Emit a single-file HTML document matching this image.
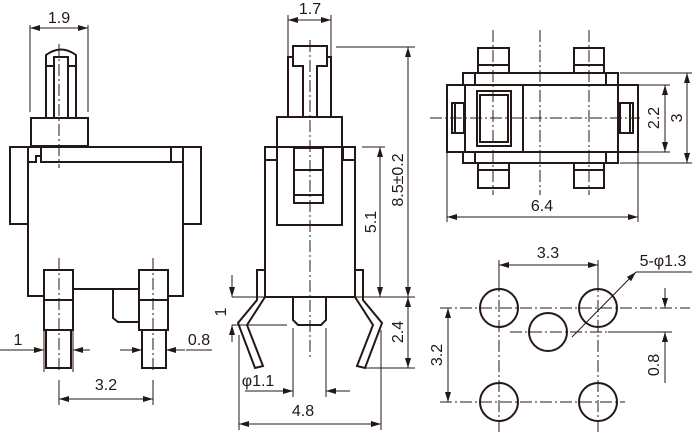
<!DOCTYPE html>
<html><head><meta charset="utf-8"><style>
html,body{margin:0;padding:0;background:#fff;}
svg{display:block;}
text{font-family:"Liberation Sans",sans-serif;font-size:16px;fill:#231815;}
.o{fill:none;stroke:#231815;stroke-width:2;}
.d{fill:none;stroke:#231815;stroke-width:1;}
.c{fill:none;stroke:#231815;stroke-width:1;stroke-dasharray:12 3 2 3;}
</style></head><body>
<svg width="694" height="433" viewBox="0 0 694 433" xmlns="http://www.w3.org/2000/svg">
<defs>
<marker id="a" viewBox="0 0 10 6" refX="10" refY="3" markerWidth="10" markerHeight="6" orient="auto-start-reverse" markerUnits="userSpaceOnUse"><path d="M0,0L10,3L0,6z" fill="#231815"/></marker>
</defs>
<!-- LEFT VIEW -->
<line class="d" x1="30" y1="25" x2="30" y2="112"/><line class="d" x1="88" y1="25" x2="88" y2="112"/>
<line class="d" x1="30" y1="28" x2="88" y2="28" marker-start="url(#a)" marker-end="url(#a)"/>
<text x="59" y="23" text-anchor="middle">1.9</text>
<path class="o" d="M46,118V55Q61,44 76,55V118"/>
<rect class="o" x="54" y="57" width="14" height="61"/>
<line class="o" x1="46" y1="66" x2="54" y2="66"/><line class="o" x1="68" y1="66" x2="76" y2="66"/>
<rect class="o" x="31" y="118" width="57" height="28"/>
<rect class="o" x="10" y="147" width="18" height="77"/>
<rect class="o" x="183" y="147" width="18" height="77"/>
<path class="o" d="M28,147H201M28,162V296H44M73,289H139M168,296H183V162H41V147M41,162V156H36V162H28M171,147V162"/>
<rect class="o" x="44" y="270" width="29" height="60"/><line class="o" x1="44" y1="300" x2="73" y2="300"/>
<rect class="o" x="46" y="330" width="25" height="38"/>
<rect class="o" x="139" y="270" width="29" height="60"/><line class="o" x1="139" y1="300" x2="168" y2="300"/>
<rect class="o" x="142" y="330" width="24" height="38"/>
<path class="o" d="M139,289H113V318L118,322H139"/>
<line class="c" x1="59" y1="44" x2="59" y2="168"/>
<line class="c" x1="59" y1="258" x2="59" y2="372"/><line class="c" x1="153" y1="258" x2="153" y2="372"/>
<line class="d" x1="0" y1="350" x2="44" y2="350" marker-end="url(#a)"/><line class="d" x1="90" y1="350" x2="73" y2="350" marker-end="url(#a)"/>
<line class="d" x1="44" y1="326" x2="44" y2="372"/><line class="d" x1="73" y1="326" x2="73" y2="372"/>
<text x="18" y="345" text-anchor="middle">1</text>
<line class="d" x1="120" y1="350" x2="142" y2="350" marker-end="url(#a)"/><line class="d" x1="185" y1="350" x2="166" y2="350" marker-end="url(#a)"/>
<line class="d" x1="186" y1="350" x2="212" y2="350"/>
<text x="199" y="345" text-anchor="middle">0.8</text>
<line class="d" x1="59" y1="380" x2="59" y2="405"/><line class="d" x1="153" y1="380" x2="153" y2="405"/>
<line class="d" x1="59" y1="399" x2="153" y2="399" marker-start="url(#a)" marker-end="url(#a)"/>
<text x="106" y="390" text-anchor="middle">3.2</text>
<!-- MIDDLE VIEW -->
<line class="d" x1="288" y1="15" x2="288" y2="56"/><line class="d" x1="331" y1="15" x2="331" y2="56"/>
<line class="d" x1="288" y1="20" x2="331" y2="20" marker-start="url(#a)" marker-end="url(#a)"/>
<text x="310" y="14" text-anchor="middle">1.7</text>
<path class="o" d="M288,117V57H293V46H327V57H331V117M293,57V66H303V117M327,57V66H317V117"/>
<rect class="o" x="277" y="117" width="65" height="30"/>
<path class="o" d="M265,147H355V297H265Z"/>
<rect class="o" x="265" y="147" width="12" height="13"/><rect class="o" x="343" y="147" width="12" height="13"/>
<path class="o" d="M277,147V225H342V147"/>
<rect class="o" x="294" y="148" width="29" height="55"/>
<line class="o" x1="294" y1="170" x2="323" y2="170"/><line class="o" x1="294" y1="195" x2="323" y2="195"/>
<path class="o" d="M257,270H265V297L247,325L263,366L255,368L238,323L257,300Z" fill="#fff"/>
<path class="o" d="M363,270H355V297L373,325L357,366L365,368L382,323L363,300Z" fill="#fff"/>
<path class="o" d="M293,297V320L298,325H321L326,320V297"/><line class="o" x1="293" y1="297" x2="326" y2="297"/>
<line class="c" x1="310" y1="40" x2="310" y2="360"/>
<line class="d" x1="336" y1="47" x2="415" y2="47"/>
<line class="d" x1="232" y1="297" x2="415" y2="297"/>
<line class="d" x1="365" y1="368" x2="415" y2="368"/>
<line class="d" x1="408" y1="47" x2="408" y2="297" marker-start="url(#a)" marker-end="url(#a)"/>
<line class="d" x1="408" y1="297" x2="408" y2="368" marker-start="url(#a)" marker-end="url(#a)"/>
<text transform="translate(403,180) rotate(-90)" text-anchor="middle">8.5±0.2</text>
<text transform="translate(403,332) rotate(-90)" text-anchor="middle">2.4</text>
<line class="d" x1="362" y1="147" x2="385" y2="147"/>
<line class="d" x1="380" y1="147" x2="380" y2="297" marker-start="url(#a)" marker-end="url(#a)"/>
<text transform="translate(376,222) rotate(-90)" text-anchor="middle">5.1</text>
<line class="d" x1="232" y1="325" x2="287" y2="325"/>
<line class="d" x1="232" y1="275" x2="232" y2="297" marker-end="url(#a)"/>
<line class="d" x1="232" y1="342" x2="232" y2="325" marker-end="url(#a)"/>
<text transform="translate(226,312) rotate(-90)" text-anchor="middle">1</text>
<line class="d" x1="293" y1="328" x2="293" y2="397"/><line class="d" x1="326" y1="328" x2="326" y2="397"/>
<line class="d" x1="245" y1="391" x2="293" y2="391" marker-end="url(#a)"/>
<line class="d" x1="350" y1="391" x2="326" y2="391" marker-end="url(#a)"/>
<text x="258" y="386" text-anchor="middle">φ1.1</text>
<line class="d" x1="239" y1="335" x2="239" y2="430"/><line class="d" x1="381" y1="330" x2="381" y2="430"/>
<line class="d" x1="239" y1="424" x2="381" y2="424" marker-start="url(#a)" marker-end="url(#a)"/>
<text x="303" y="416" text-anchor="middle">4.8</text>
<!-- TOP RIGHT VIEW -->
<rect class="o" x="478" y="48" width="31" height="25"/><line class="o" x1="478" y1="65" x2="509" y2="65"/>
<rect class="o" x="574" y="48" width="30" height="25"/><line class="o" x1="574" y1="65" x2="604" y2="65"/>
<rect class="o" x="478" y="163" width="31" height="25"/><line class="o" x1="478" y1="170" x2="509" y2="170"/>
<rect class="o" x="574" y="163" width="30" height="25"/><line class="o" x1="574" y1="170" x2="604" y2="170"/>
<path class="o" d="M463,73H618V85H638V152H618V163H463V152H447V85H463Z"/>
<path class="o" d="M463,85H475V73M463,152H475V163M618,85H606V73M618,152H606V163"/>
<line class="o" x1="475" y1="85" x2="606" y2="85"/><line class="o" x1="475" y1="152" x2="606" y2="152"/>
<line class="o" x1="465" y1="85" x2="465" y2="152"/>
<line class="o" x1="618" y1="85" x2="618" y2="152"/>
<rect class="o" x="465" y="85" width="58" height="67"/>
<rect class="o" x="477" y="91" width="34" height="55"/>
<rect class="o" x="480" y="95" width="28" height="47"/>
<rect class="o" x="452" y="103" width="12" height="30"/><line class="o" x1="455" y1="103" x2="455" y2="133"/>
<rect class="o" x="620" y="103" width="13" height="30"/><line class="o" x1="630" y1="103" x2="630" y2="133"/>
<line class="c" x1="430" y1="118" x2="640" y2="118"/>
<line class="c" x1="493" y1="30" x2="493" y2="195"/>
<line class="c" x1="540" y1="30" x2="540" y2="195"/>
<line class="c" x1="589" y1="30" x2="589" y2="195"/>
<line class="d" x1="630" y1="85" x2="670" y2="85"/><line class="d" x1="630" y1="152" x2="670" y2="152"/>
<line class="d" x1="620" y1="73" x2="692" y2="73"/><line class="d" x1="620" y1="163" x2="692" y2="163"/>
<line class="d" x1="665" y1="85" x2="665" y2="152" marker-start="url(#a)" marker-end="url(#a)"/>
<line class="d" x1="687" y1="73" x2="687" y2="163" marker-start="url(#a)" marker-end="url(#a)"/>
<text transform="translate(659,118) rotate(-90)" text-anchor="middle">2.2</text>
<text transform="translate(682,118) rotate(-90)" text-anchor="middle">3</text>
<line class="d" x1="447" y1="125" x2="447" y2="222"/><line class="d" x1="638" y1="152" x2="638" y2="222"/>
<line class="d" x1="447" y1="217" x2="638" y2="217" marker-start="url(#a)" marker-end="url(#a)"/>
<text x="542" y="211" text-anchor="middle">6.4</text>
<!-- BOTTOM RIGHT -->
<line class="c" x1="440" y1="308" x2="690" y2="308"/>
<line class="c" x1="510" y1="332" x2="610" y2="332"/>
<line class="c" x1="440" y1="402" x2="625" y2="402"/>
<line class="c" x1="499" y1="280" x2="499" y2="433"/>
<line class="c" x1="598" y1="280" x2="598" y2="433"/>
<circle class="o" cx="499" cy="308" r="19" fill="#fff"/>
<circle class="o" cx="598" cy="308" r="19" fill="none"/>
<circle class="o" cx="548" cy="332" r="19" fill="#fff"/>
<circle class="o" cx="499" cy="402" r="19" fill="none"/>
<circle class="o" cx="598" cy="402" r="19" fill="none"/>
<line class="d" x1="499" y1="260" x2="499" y2="290"/><line class="d" x1="598" y1="260" x2="598" y2="290"/>
<line class="d" x1="499" y1="265" x2="598" y2="265" marker-start="url(#a)" marker-end="url(#a)"/>
<text x="548" y="258" text-anchor="middle">3.3</text>
<text x="663" y="266" text-anchor="middle">5-φ1.3</text>
<line class="d" x1="636" y1="272" x2="692" y2="272"/>
<line class="d" x1="636" y1="272" x2="572" y2="337" marker-start="url(#a)"/>
<line class="d" x1="448" y1="308" x2="448" y2="402" marker-start="url(#a)" marker-end="url(#a)"/>
<text transform="translate(442,355) rotate(-90)" text-anchor="middle">3.2</text>
<line class="d" x1="608" y1="332" x2="672" y2="332"/>
<line class="d" x1="665" y1="288" x2="665" y2="308" marker-end="url(#a)"/>
<line class="d" x1="665" y1="383" x2="665" y2="332" marker-end="url(#a)"/>
<text transform="translate(659,365) rotate(-90)" text-anchor="middle">0.8</text>
</svg>
</body></html>
